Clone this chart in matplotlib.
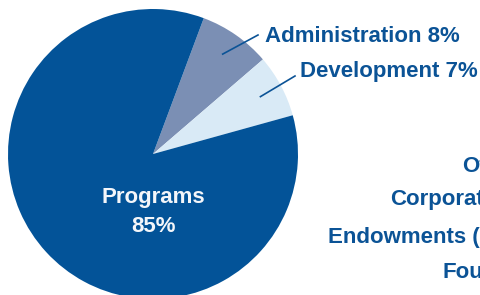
import matplotlib.pyplot as plt
import numpy as np

# Expense split (percent), drawn clockwise from the top-right
labels = ['Administration', 'Development', 'Programs']
shares = [8, 7, 85]
colors = ['#7b8fb4', '#d9eaf6', '#035398']
text_blue = '#0b5396'

# Partially visible text on the right edge (cut off in the original)
side_lines = ['Of', 'Corporat', 'Endowments (C', 'Fou']

W, H = 480, 295
fig = plt.figure(figsize=(W / 100, H / 100), dpi=100)
ax = fig.add_axes([0, 0, 1, 1])

cx, cy, r = 153, H - 154, 145
wedges, _ = ax.pie(shares, colors=colors, startangle=69.5, counterclock=False,
                   center=(cx, cy), radius=r,
                   wedgeprops=dict(linewidth=0))

ax.set_xlim(0, W)
ax.set_ylim(0, H)
ax.set_aspect('equal')
ax.axis('off')

font = dict(family=['Liberation Sans', 'DejaVu Sans'], fontweight='bold', fontsize=16)

# Leader lines + labels for the two small slices
ends = [(258, H - 35), (295, H - 76)]
text_pos = [(265, H - 36), (300, H - 71)]
for w, lab, val, end, tp in zip(wedges[:2], labels[:2], shares[:2], ends, text_pos):
    mid = np.deg2rad((w.theta1 + w.theta2) / 2)
    start = (cx + 0.84 * r * np.cos(mid), cy + 0.84 * r * np.sin(mid))
    ax.plot([start[0], end[0]], [start[1], end[1]], color=text_blue, lw=1.2)
    ax.text(tp[0], tp[1], f'{lab} {val}%', color=text_blue, ha='left', va='center', **font)

# Big slice label
ax.text(cx, H - 197, labels[2], color='#f4f6fa', ha='center', va='center', **font)
ax.text(cx, H - 227, f'{shares[2]}%', color='#f4f6fa', ha='center', va='center', **font)

side_x = [462, 390, 328, 443]
side_y = [167, 200, 238, 272]
for s, x, y in zip(side_lines, side_x, side_y):
    ax.text(x, H - y, s, color=text_blue, ha='left', va='center', clip_on=False, **font)

fig.savefig('out.png', dpi=100)
